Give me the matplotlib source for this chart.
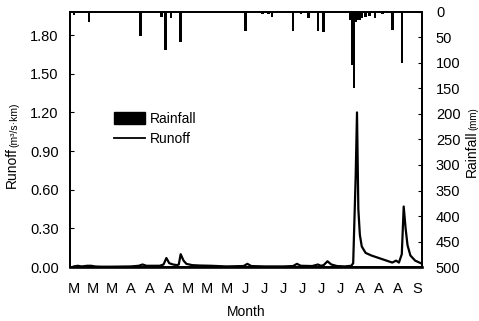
import numpy as np
import matplotlib
matplotlib.use("Agg")
import matplotlib.pyplot as plt
from matplotlib.patches import Patch
from matplotlib.lines import Line2D

plt.rcParams['font.family'] = ['Liberation Sans', 'DejaVu Sans']

# month tick labels (one per ten days, Mar 1 .. Sep 1)
tick_labels = ['M', 'M', 'M', 'A', 'A', 'A', 'M', 'M', 'M',
               'J', 'J', 'J', 'J', 'J', 'J', 'A', 'A', 'A', 'S']
tick_days = [0, 10, 20, 30, 40, 50, 60, 70, 80, 90,
             100, 110, 120, 130, 140, 150, 160, 170, 180]

# daily rainfall (mm), hanging bars from the top
rain_day = [0, 3, 8, 35, 46, 48, 51, 56, 60, 65, 68, 72, 80, 85, 90, 95, 99,
            102, 104, 110, 115, 119, 123, 128, 131, 135, 140, 145, 146, 147,
            148, 149, 150, 151, 153, 155, 158, 162, 167, 172, 176]
rain_mm = [6, 3, 20, 47, 10, 75, 12, 59, 2, 3, 2, 2, 2, 3, 37, 3, 5,
           4, 10, 3, 37, 4, 12, 37, 39, 3, 2, 15, 104, 149,
           20, 15, 15, 12, 10, 8, 12, 5, 35, 100, 3]

# runoff (m3/s.km)
runoff_day = [0, 2, 4, 7, 9, 11, 14, 20, 30, 34, 36, 38,
              45, 47, 48.5, 50, 52, 54, 55, 56, 57.5, 59, 62, 66, 72, 80,
              89, 91, 93, 100, 110, 115, 117, 119, 125, 128, 129.5, 131,
              133, 135, 138, 142, 145.5, 146.5, 147.8, 148.5, 149.2, 150,
              151, 153, 156, 160, 164, 167, 169, 170.5, 172, 173, 174,
              175, 176.5, 179, 182]
runoff = [0.005, 0.01, 0.005, 0.01, 0.01, 0.005, 0.003, 0.003, 0.005, 0.01, 0.02, 0.01,
          0.01, 0.02, 0.07, 0.03, 0.02, 0.015, 0.02, 0.1, 0.05, 0.025, 0.015, 0.012, 0.01, 0.005,
          0.008, 0.025, 0.008, 0.005, 0.005, 0.008, 0.025, 0.01, 0.008, 0.02, 0.01, 0.015,
          0.045, 0.02, 0.008, 0.005, 0.01, 0.03, 0.7, 1.2, 0.45, 0.25,
          0.16, 0.11, 0.09, 0.07, 0.05, 0.035, 0.05, 0.035, 0.1, 0.47, 0.3,
          0.17, 0.09, 0.05, 0.03]

fig = plt.figure(figsize=(4.79, 3.21), dpi=100)
ax = fig.add_axes([0.146, 0.168, 0.735, 0.795])
ax2 = ax.twinx()

ax.plot(runoff_day, runoff, color='black', lw=1.6)
ax2.bar(rain_day, rain_mm, width=1.3, color='black', align='center')

ax.set_xlim(-2.1, 182.6)
ax.set_ylim(0, 1.98)
ax2.set_ylim(500, 0)

ax.set_xticks(tick_days)
ax.set_xticklabels(tick_labels)
ax.set_yticks(np.arange(0, 1.81, 0.3))
ax.set_yticklabels(['%.2f' % v for v in np.arange(0, 1.81, 0.3)])
ax2.set_yticks(np.arange(0, 501, 50))

ax.tick_params(axis='x', length=0, pad=11, labelsize=10.5)
ax.tick_params(axis='y', direction='in', length=3, pad=8, labelsize=10.5)
ax2.tick_params(axis='y', direction='in', length=3, pad=10, labelsize=10.5)

for sp in ax.spines.values():
    sp.set_linewidth(1.3)
for sp in ax2.spines.values():
    sp.set_linewidth(1.3)
ax.spines['bottom'].set_linewidth(1.9)

ax.set_xlabel('Month', fontsize=10, labelpad=6)

t1 = fig.text(0.025, 0.414, 'Runoff', rotation=90, fontsize=10,
              ha='center', va='bottom')
ax.annotate('(m³/s·km)', xy=(1, 1), xycoords=t1, rotation=90,
            fontsize=7.5, ha='right', va='bottom')
t2 = fig.text(0.985, 0.45, 'Rainfall', rotation=90, fontsize=10,
              ha='center', va='bottom')
ax.annotate('(mm)', xy=(1, 1), xycoords=t2, rotation=90,
            fontsize=7, ha='right', va='bottom')

handles = [Patch(facecolor='black', edgecolor='black'),
           Line2D([0], [0], color='black', lw=1.3)]
ax.legend(handles, ['Rainfall', 'Runoff'], loc='upper left',
          bbox_to_anchor=(0.11, 0.63), frameon=False, fontsize=10,
          handlelength=2.2, handleheight=0.9, handletextpad=0.35,
          labelspacing=0.45, borderaxespad=0)

fig.savefig('out.png', dpi=100)
